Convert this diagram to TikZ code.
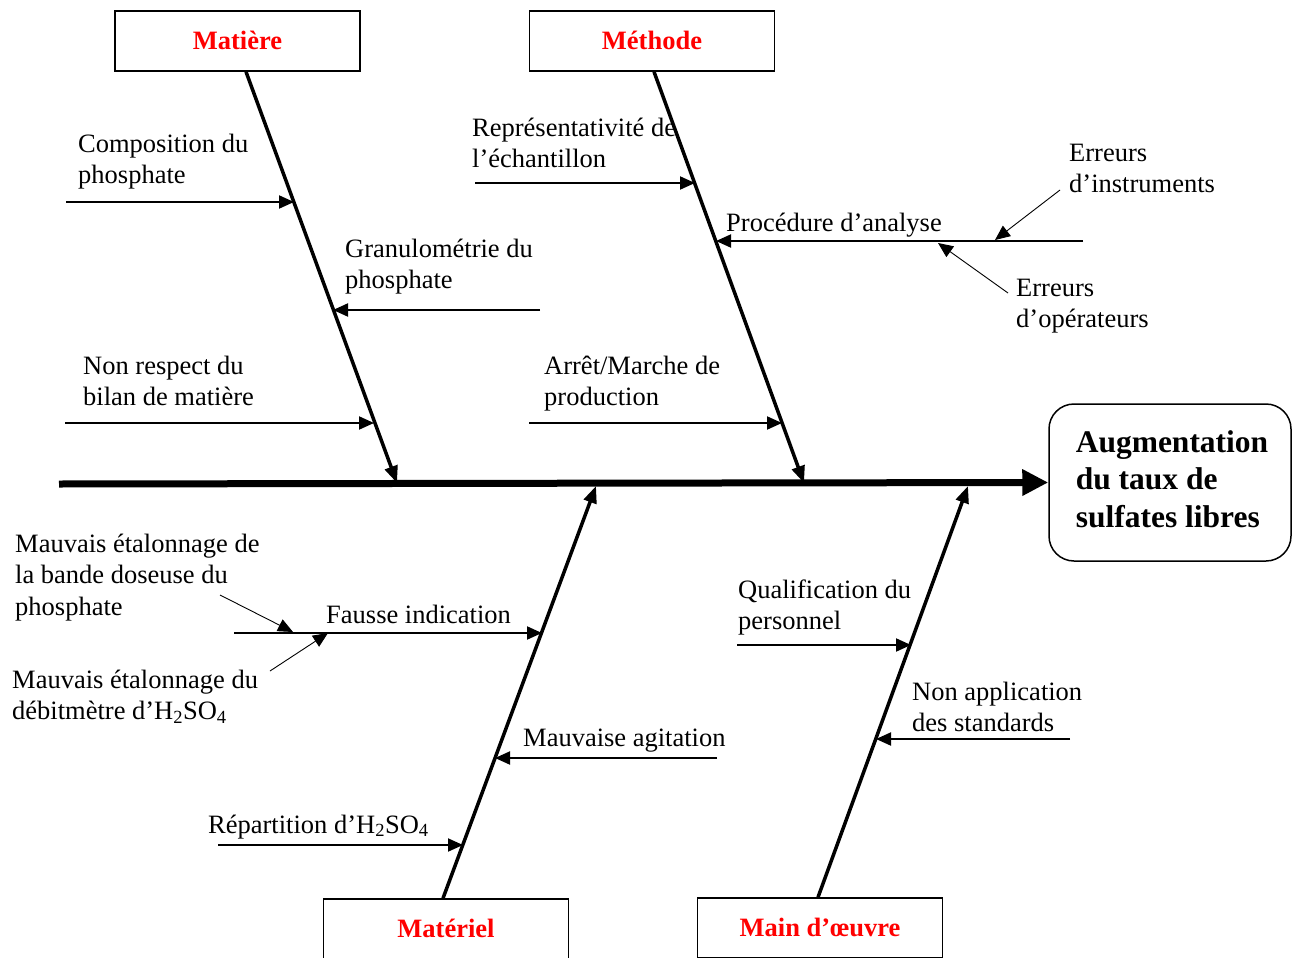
\documentclass[tikz,border=0pt]{standalone}
\usepackage{fontspec}
\setmainfont{Liberation Serif}
\usetikzlibrary{arrows.meta,calc}
\begin{document}
\begin{tikzpicture}[x=1pt,y=-1pt,
  every node/.style={font=\fontsize{26.5}{31.5}\selectfont, inner sep=0pt},
  catbox/.style={draw, line width=1.5pt, minimum width=245pt, minimum height=60pt, font=\fontsize{26.5}{31.5}\selectfont\bfseries, text=red},
  effectbox/.style={draw, line width=1.5pt, rounded corners=25pt, minimum width=242pt, minimum height=157pt},
  effecttext/.style={align=left, font=\fontsize{31.5}{37.5}\selectfont\bfseries},
  spine/.style={line width=7pt, -{Triangle[length=26pt,width=25pt]}},
  bone/.style={line width=3.5pt, -{Triangle[length=17pt,width=13pt]}},
  sub/.style={line width=2pt, -{Triangle[length=15pt,width=13pt]}},
  subsub/.style={line width=0.9pt, -{Triangle[length=15pt,width=13pt]}},
  lbl/.style={anchor=base west, align=left},
]
\useasboundingbox (0,0) rectangle (1298,958);
\clip (0,0) rectangle (1298,958);

% category boxes
\node[catbox] (matiere) at (237.5,41) {\raisebox{2pt}{Matière}};
\node[catbox] (methode) at (652,41) {\raisebox{2pt}{Méthode}};
\node[catbox] (materiel) at (446,929) {\raisebox{1pt}{Matériel}};
\node[catbox] (main) at (820,928) {\raisebox{1pt}{Main d’œuvre}};

% effect
\node[effectbox] (effect) at (1170,482.5) {};
\node[effecttext] (effectlbl) at (1172,479) {Augmentation\\du taux de\\sulfates libres};

% spine
\coordinate (spinestart) at (59,484);
\draw[spine] (spinestart) -- (effect.west);

% bones
\coordinate (matEnd) at (397,483);
\coordinate (metEnd) at (804,483);
\coordinate (mtlEnd) at (596,486);
\coordinate (mdoEnd) at (968,486);
\draw[bone] ([xshift=8.5pt]matiere.south) -- (matEnd);
\draw[bone] ([xshift=2pt]methode.south) -- (metEnd);
\draw[bone] ([xshift=-3pt]materiel.north) -- (mtlEnd);
\draw[bone] ([xshift=-2pt]main.north) -- (mdoEnd);

% Matière causes
\coordinate (c1s) at (66,202);   \coordinate (c1e) at (294,202);
\coordinate (c2s) at (540,310);  \coordinate (c2e) at (333,310);
\coordinate (c3s) at (65,423);   \coordinate (c3e) at (374,423);
\draw[sub] (c1s) -- (c1e);
\draw[sub] (c2s) -- (c2e);
\draw[sub] (c3s) -- (c3e);
\node[lbl] (t1) at (78,183.5) {Composition du\\phosphate};
\node[lbl] (t2) at (345,288.5) {Granulométrie du\\phosphate};
\node[lbl] (t3) at (83,405.5) {Non respect du\\bilan de matière};

% Méthode causes
\coordinate (c4s) at (475,183);  \coordinate (c4e) at (695,183);
\coordinate (c5s) at (1083,241); \coordinate (c5e) at (716,241);
\coordinate (c6s) at (529,423);  \coordinate (c6e) at (782,423);
\draw[sub] (c4s) -- (c4e);
\draw[sub] (c5s) -- (c5e);
\draw[sub] (c6s) -- (c6e);
\node[lbl] (t4) at (472,167.5) {Représentativité de\\l’échantillon};
\node[lbl] (t5) at (726,231) {Procédure d’analyse};
\node[lbl] (t6) at (544,405.5) {Arrêt/Marche de\\production};
\node[lbl] (t7) at (1069,192.5) {Erreurs\\d’instruments};
\node[lbl] (t8) at (1016,327.5) {Erreurs\\d’opérateurs};
\coordinate (e1s) at (1060,190); \coordinate (e1e) at (995,240);
\coordinate (e2s) at (1008,293); \coordinate (e2e) at (938,243);
\draw[subsub] (e1s) -- (e1e);
\draw[subsub] (e2s) -- (e2e);

% Matériel causes
\coordinate (c7s) at (234,633);  \coordinate (c7e) at (542,633);
\coordinate (c8s) at (717,758);  \coordinate (c8e) at (495,758);
\coordinate (c9s) at (218,845);  \coordinate (c9e) at (463,845);
\draw[sub] (c7s) -- (c7e);
\draw[sub] (c8s) -- (c8e);
\draw[sub] (c9s) -- (c9e);
\node[lbl] (t9) at (326,623) {Fausse indication};
\node[lbl] (t10) at (523,746) {Mauvaise agitation};
\node[lbl] (t11) at (208,833) {Répartition d’H\textsubscript{2}SO\textsubscript{4}};
\node[lbl] (t12) at (15,615) {Mauvais étalonnage de\\la bande doseuse du\\phosphate};
\node[lbl] (t13) at (12,719.5) {Mauvais étalonnage du\\débitmètre d’H\textsubscript{2}SO\textsubscript{4}};
\coordinate (e3s) at (220,595); \coordinate (e3e) at (293,632);
\coordinate (e4s) at (270,671); \coordinate (e4e) at (328,633);
\draw[subsub] (e3s) -- (e3e);
\draw[subsub] (e4s) -- (e4e);

% Main d'oeuvre causes
\coordinate (c10s) at (737,645);  \coordinate (c10e) at (911,645);
\coordinate (c11s) at (1070,739); \coordinate (c11e) at (876,739);
\draw[sub] (c10s) -- (c10e);
\draw[sub] (c11s) -- (c11e);
\node[lbl] (t14) at (738,629.5) {Qualification du\\personnel};
\node[lbl] (t15) at (912,731.5) {Non application\\des standards};
\end{tikzpicture}
\end{document}
